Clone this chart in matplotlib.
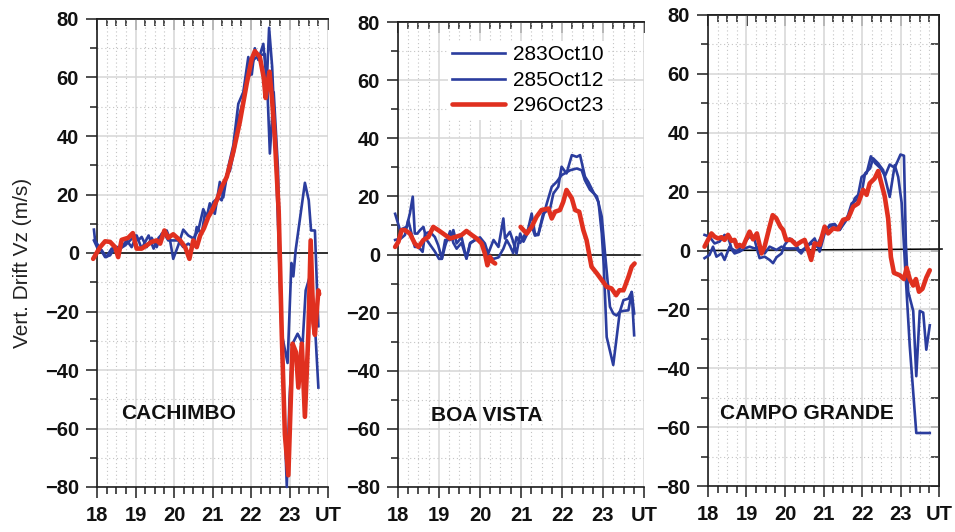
import numpy as np
import matplotlib
matplotlib.use("Agg")
import matplotlib.pyplot as plt
from matplotlib.ticker import MultipleLocator, NullFormatter

# ---------------- data: vertical drift Vz (m/s) versus UT (hours) ----------------
series_labels = ["283Oct10", "285Oct12", "296Oct23"]
station_names = ["CACHIMBO", "BOA VISTA", "CAMPO GRANDE"]
x_tick_labels = ["18", "19", "20", "21", "22", "23", "UT"]

# CACHIMBO
cach_t_283 = [17.92, 17.95, 18.08, 18.21, 18.34, 18.47, 18.60, 18.73, 18.86, 18.99, 19.07, 19.16,
              19.29, 19.42, 19.55, 19.68, 19.81, 19.89, 19.98, 20.11, 20.24, 20.37, 20.50, 20.63,
              20.76, 20.85, 20.93, 21.06, 21.19, 21.28, 21.41, 21.54, 21.67, 21.80, 21.93, 22.02,
              22.10, 22.19, 22.32, 22.41, 22.47, 22.55, 22.63, 22.72, 22.80, 22.93, 23.00, 23.08,
              23.21, 23.34, 23.42, 23.55, 23.64, 23.75]
cach_v_283 = [8, 4.3, 1.5, -1.4, -0.8, 2, 1.5, 2.6, 4.3, 6, 4.3, 5.5,
              2, 5.2, 2, 6.6, 7.7, 4.9, -2, 2.6, 8, 6, 5, 7.7,
              15, 12.3, 17, 13.4, 24.3, 19, 29.4, 36.8, 51, 55, 67, 61,
              70, 66, 71.5, 58, 77, 63.6, 37.4, 3.2, -31, -80, -50, -31,
              -27.6, -31, -12.8, -7, -19.6, -46]
cach_t_285 = [17.92, 18.00, 18.12, 18.24, 18.38, 18.51, 18.64, 18.77, 18.90, 19.03, 19.16, 19.34,
              19.47, 19.60, 19.73, 19.85, 19.98, 20.11, 20.24, 20.37, 20.50, 20.59, 20.72, 20.80,
              20.93, 21.02, 21.15, 21.24, 21.37, 21.45, 21.58, 21.67, 21.80, 21.89, 21.97, 22.06,
              22.15, 22.23, 22.36, 22.42, 22.49, 22.59, 22.70, 22.80, 22.88, 22.95, 23.05, 23.10,
              23.16, 23.40, 23.50, 23.56, 23.66, 23.75]
cach_v_285 = [4.3, 2, 1, -1.4, 1.5, 2, 2, 4.3, 2, 6, 1.5, 6,
              1.5, 5.2, 7, 4.3, 4.3, 4.3, 2, 3.2, 2, 8.9, 6.6, 13.4,
              12.9, 17.4, 19, 18, 27, 28, 36, 46, 52, 61, 60.7, 66,
              67, 67.6, 68, 58, 34, 55, 29, -27.6, -33, -37.6, -3.4, -8,
              1, 24, 18, 7.7, 7.7, -25]
cach_t_296 = [17.90, 18.08, 18.21, 18.34, 18.47, 18.55, 18.64, 18.81, 18.93, 19.03, 19.16, 19.29,
              19.42, 19.55, 19.64, 19.75, 19.85, 19.98, 20.16, 20.29, 20.40, 20.50, 20.59, 20.68,
              20.78, 20.89, 21.00, 21.11, 21.24, 21.37, 21.54, 21.71, 21.89, 22.02, 22.10, 22.23,
              22.33, 22.38, 22.43, 22.48, 22.55, 22.62, 22.72, 22.80, 22.88, 22.97, 23.08, 23.17,
              23.23, 23.32, 23.40, 23.49, 23.55, 23.62, 23.66, 23.75, 23.77]
cach_v_296 = [-2, 2, 4, 3.8, 2, -1.4, 4.5, 5.2, 6.8, 1.5, 1.5, 2.6,
              3.8, 4.3, 3.2, 7.7, 5.2, 6.4, 4.3, 2, -2, 4.3, 2, 6,
              8.5, 12.3, 14.8, 18, 22.6, 26, 34.5, 44.8, 58, 66.4, 69, 67,
              60, 53, 58, 62, 52, 39, 14, -28, -62, -76, -31, -34,
              -46, -31, -56, -27.6, 4.3, -24, -28, -12.8, -14]

# BOA VISTA
boa_t_283 = [17.93, 18.05, 18.13, 18.21, 18.29, 18.36, 18.41, 18.47, 18.54, 18.62, 18.70, 18.80,
             18.90, 19.00, 19.07, 19.15, 19.27, 19.35, 19.43, 19.55, 19.67, 19.76, 19.88, 20.00,
             20.12, 20.20, 20.33, 20.45, 20.57, 20.65, 20.73, 20.81, 20.89, 20.98, 21.06, 21.14,
             21.26, 21.34, 21.42, 21.50, 21.63, 21.75, 21.87, 21.99, 22.20, 22.36, 22.48, 22.56,
             22.68, 22.85, 22.97, 23.05, 23.17, 23.25, 23.33, 23.41, 23.50, 23.62, 23.70, 23.76]
boa_v_283 = [14, 8.4, 9, 9.5, 14.1, 19.9, 7.2, 7.2, 8.4, 9.5, 5, 3,
             1, -1.5, -1.5, 3, 8, 4, 2, 4, -1.4, 4, 5, 5,
             2, -0.5, -1.5, -1, 2, 5, 3, 0.5, 6, 4, 6, 8,
             10, 6.5, 6.8, 11, 17.6, 23.3, 25, 27.3, 29, 29.6, 29, 25.5,
             22.3, 20, 13, 0.3, -18, -20.3, -21, -19.7, -19.4, -19.2, -12.9, -20.3]
boa_t_285 = [17.93, 18.07, 18.17, 18.25, 18.33, 18.41, 18.50, 18.60, 18.66, 18.78, 18.90, 18.98,
             19.07, 19.15, 19.27, 19.35, 19.43, 19.55, 19.67, 19.76, 19.88, 20.00, 20.12, 20.20,
             20.33, 20.45, 20.57, 20.61, 20.73, 20.81, 20.89, 20.98, 21.06, 21.14, 21.26, 21.34,
             21.42, 21.54, 21.71, 21.79, 21.91, 21.99, 22.11, 22.24, 22.36, 22.44, 22.56, 22.64,
             22.76, 22.89, 22.97, 23.02, 23.09, 23.25, 23.41, 23.50, 23.62, 23.70, 23.76]
boa_v_285 = [5, 5.5, 6.7, 11.8, 7.2, 2.6, 2.6, 0.9, 7.2, 7.8, 6, 3.2,
             -1.4, 5, 5, 8.4, 3.8, 6, -1.4, 3.8, 5, 5.9, 3.8, 0.3,
             5, 2.6, 12.4, 5.5, 7.8, 4.4, 0.3, 7.2, 4.4, 6.7, 14.1, 7.2,
             6.7, 14.1, 15.8, 21, 23.3, 30.2, 27.9, 34.2, 33.6, 34.2, 26.8, 25,
             21.6, 18.1, 7.2, -4.2, -28.4, -38, -19.7, -15.7, -15.2, -12.9, -27.8]
boa_t_296 = [17.93, 18.01, 18.09, 18.17, 18.29, 18.41, 18.50, 18.62, 18.74, 18.86, 18.98, 19.15,
             19.27, 19.39, 19.55, 19.67, 19.80, 19.92, 20.04, 20.12, 20.18, 20.24, 20.31, 20.37,
             20.68,
             20.99, 21.06, 21.14, 21.26, 21.38, 21.50, 21.67, 21.75, 21.83, 21.95, 22.03, 22.11,
             22.24, 22.32, 22.42, 22.52, 22.60, 22.72, 22.85, 22.97, 23.09, 23.21, 23.32, 23.40,
             23.50, 23.62, 23.70, 23.77]
boa_v_296 = [2.6, 4.4, 8.4, 8.4, 7.2, 3.8, 2.6, 5, 6, 9.5, 8.4, 6.7,
             5.5, 6, 6.7, 8.1, 6.7, 5.5, 3.8, 0.3, -3.7, -0.8, -2.5, -3.1,
             np.nan,
             9.5, 8.4, 7.2, 9.5, 13, 15.3, 15.8, 12.4, 14.7, 15.3, 18.1, 22.2,
             19.3, 15.3, 14.7, 8.4, 4.9, -4.2, -6.5, -8.8, -11.1, -11.7, -14, -12.3,
             -12.3, -7.7, -4.2, -3.1]

# CAMPO GRANDE
cg_t_283 = [17.91, 18.04, 18.17, 18.30, 18.43, 18.52, 18.61, 18.74, 18.87, 19.00, 19.08, 19.21,
            19.34, 19.47, 19.60, 19.69, 19.78, 19.91, 19.99, 20.12, 20.25, 20.38, 20.51, 20.64,
            20.77, 20.90, 21.03, 21.16, 21.29, 21.42, 21.55, 21.68, 21.81, 21.90, 21.99, 22.12,
            22.23, 22.34, 22.47, 22.60, 22.72, 22.85, 23.00, 23.09, 23.14, 23.20, 23.33, 23.41,
            23.50, 23.59, 23.67, 23.76]
cg_v_283 = [5.3, 4.7, 2.4, 3, 5.3, 4.7, 0.7, -0.4, 1.3, 3.6, 4.7, 3.6,
            -2.6, -2.1, -3.2, -4.3, -2.3, -1, 1.9, 4.1, 3, -0.4, 0.7, 2.4,
            4.1, -0.4, 5.8, 8.7, 9, 7, 10.1, 12.6, 17.7, 18.9, 25, 26.2,
            32, 29.7, 28.1, 25.4, 29.2, 28.1, 32.6, 32.2, 2.2, -14, -20.5, -42.7,
            -20.5, -21.1, -33.7, -25.4]
cg_t_285 = [17.91, 18.04, 18.13, 18.22, 18.35, 18.43, 18.56, 18.69, 18.82, 18.95, 19.08, 19.21,
            19.34, 19.47, 19.60, 19.78, 19.91, 20.03, 20.16, 20.29, 20.42, 20.55, 20.68, 20.81,
            20.90, 21.03, 21.16, 21.29, 21.42, 21.60, 21.73, 21.86, 21.99, 22.08, 22.21, 22.29,
            22.42, 22.55, 22.72, 22.85, 22.94, 23.03, 23.11, 23.24, 23.41, 23.76]
cg_v_285 = [-2.6, -1.5, 1.3, -2.1, -1, -3.2, 1.3, -1, -0.4, 0.7, 1.3, 0.7,
            1.3, -1, 1.3, 0.2, 1.3, 0.7, 0.7, 0.7, -1, 1.3, 2.4, 1.3,
            3.6, 7, 8.1, 8.7, 7, 10.4, 16, 17.2, 19.4, 26.2, 27.9, 31.3,
            29.6, 27.3, 18.2, 29, 25, 16.2, -3.2, -32.4, -62, -62]
cg_t_296 = [17.91, 18.00, 18.09, 18.17, 18.26, 18.35, 18.43, 18.52, 18.61, 18.69, 18.75, 18.82,
            18.91, 18.99, 19.08, 19.17, 19.27, 19.39, 19.47, 19.60, 19.68, 19.77, 19.88, 19.95,
            20.03, 20.16, 20.29, 20.42, 20.51, 20.60, 20.68, 20.77, 20.90, 21.03, 21.12, 21.25,
            21.38, 21.51, 21.64, 21.77, 21.90, 22.03, 22.12, 22.20, 22.33, 22.42, 22.59, 22.68,
            22.75, 22.83, 22.98, 23.09, 23.16, 23.24, 23.33, 23.40, 23.48, 23.57, 23.67, 23.76]
cg_v_296 = [1.3, 3.6, 5.8, 4.7, 4.1, 4.5, 3.6, 5.3, 3.3, 3.6, 1.3, 1.9,
            1.3, 3.8, 6.4, 3.8, 5.8, -1, 1.3, 8.1, 12, 11, 8.1, 7,
            3.6, 3.6, 1.9, 3, 3.6, 0.2, -3.2, 2.4, 1.9, 8.1, 5.8, 7.5,
            7.2, 10.4, 10.9, 14.9, 16, 20.6, 18.9, 22.8, 24.5, 27, 18.4, 10.8,
            -2.2, -7.6, -8.4, -9.7, -5.9, -9.7, -11.9, -9.7, -14, -13, -9.2, -6.7]

# reference line of panel 3 is drawn a touch off horizontal
cg_zero_t = [18.0, 24.08]
cg_zero_v = [0.0, 0.5]

# ---------------- style ----------------
BLUE = "#2b3d9e"
RED = "#e0301f"
INK = "#1e1e1e"
GRID_MAJ = "#d6d6d6"
GRID_MIN = "#c4c4c4"

plt.rcParams["font.family"] = ["Liberation Sans", "DejaVu Sans"]

fig = plt.figure(figsize=(9.55, 5.32), dpi=100)
W, H = 955.0, 532.0


def px_axes(left, right, top, bottom):
    return fig.add_axes([left / W, 1 - bottom / H, (right - left) / W, (bottom - top) / H])


axes = [px_axes(97, 328, 19, 487),
        px_axes(398, 644, 22, 487),
        px_axes(708, 939, 15, 486)]

panels = [
    (cach_t_283, cach_v_283, cach_t_285, cach_v_285, cach_t_296, cach_v_296),
    (boa_t_283, boa_v_283, boa_t_285, boa_v_285, boa_t_296, boa_v_296),
    (cg_t_283, cg_v_283, cg_t_285, cg_v_285, cg_t_296, cg_v_296),
]
label_pos = [(18.62, -55), (18.80, -55.5), (18.31, -55.5)]
y_ticks = np.arange(-80, 81, 20)

for i, (ax, data) in enumerate(zip(axes, panels)):
    t1, v1, t2, v2, t3, v3 = data
    ax.set_xlim(18, 24)
    ax.set_ylim(-80, 80)

    ax.set_xticks(np.arange(18, 25, 1))
    ax.set_xticklabels(x_tick_labels)
    ax.xaxis.set_minor_locator(MultipleLocator(0.25))
    ax.set_yticks(y_ticks)
    ax.set_yticklabels([f"{int(v)}".replace("-", "\u2212") for v in y_ticks])
    ax.yaxis.set_minor_locator(MultipleLocator(10))

    # grid: solid on whole hours / 20 m/s, dotted on quarter hours / 10 m/s
    ax.grid(which="major", color=GRID_MAJ, lw=1.1, ls="-", zorder=0)
    ax.grid(which="minor", color=GRID_MIN, lw=0.8, ls=(0, (1, 2.5)), zorder=0)
    ax.set_axisbelow(True)

    # zero line
    if i == 2:
        ax.plot(cg_zero_t, cg_zero_v, color="black", lw=1.1, clip_on=False, zorder=2)
    elif i == 1:
        ax.plot([18, 23.9], [0, 0], color="black", lw=1.1, zorder=2)
    else:
        ax.plot([18, 24], [0, 0], color="black", lw=1.1, zorder=2)

    l1, = ax.plot(t1, v1, color=BLUE, lw=1.9, clip_on=False, zorder=3, label=series_labels[0])
    l2, = ax.plot(t2, v2, color=BLUE, lw=1.9, clip_on=False, zorder=3, label=series_labels[1])
    l3, = ax.plot(t3, v3, color=RED, lw=3.3, clip_on=False, zorder=4, label=series_labels[2],
                  solid_joinstyle="round", solid_capstyle="round")

    ax.text(label_pos[i][0], label_pos[i][1], station_names[i], fontsize=15,
            fontweight="bold", ha="left", va="center", color="#111111", zorder=5)

    # spines
    for s in ["left", "bottom", "top"]:
        ax.spines[s].set_linewidth(1.2)
        ax.spines[s].set_color(INK)
    if i == 2:
        ax.spines["right"].set_linewidth(1.2)
        ax.spines["right"].set_color(INK)
    else:
        ax.spines["right"].set_visible(False)

    # bottom and left ticks point outward
    ax.tick_params(which="both", direction="out", color=INK, width=1.1,
                   top=False, right=False)
    ax.tick_params(axis="x", which="major", length=8, pad=6)
    ax.tick_params(axis="x", which="minor", length=5)
    ax.tick_params(axis="y", which="major", length=8, pad=5)
    ax.tick_params(axis="y", which="minor", length=5)
    for lab in ax.get_xticklabels() + ax.get_yticklabels():
        lab.set_fontweight("bold")
        lab.set_fontsize(14.5)
        lab.set_color("#111111")

    # top ticks point inward
    top = ax.secondary_xaxis("top")
    top.set_xticks(np.arange(18, 25, 1))
    top.xaxis.set_minor_locator(MultipleLocator(0.25))
    top.xaxis.set_major_formatter(NullFormatter())
    top.tick_params(which="both", direction="in", color=INK, width=1.1)
    top.tick_params(which="major", length=8)
    top.tick_params(which="minor", length=5)
    top.spines["top"].set_linewidth(1.2)
    top.spines["top"].set_color(INK)

    if i == 2:
        right = ax.secondary_yaxis("right")
        right.set_yticks(np.arange(-80, 81, 10))
        right.yaxis.set_major_formatter(NullFormatter())
        right.tick_params(which="both", direction="in", length=6, color=INK, width=1.1)
        right.spines["right"].set_linewidth(1.2)
        right.spines["right"].set_color(INK)

    if i == 1:
        leg = ax.legend(handles=[l1, l2, l3], loc="upper left",
                        bbox_to_anchor=((448 - 398) / 246.0, 1 - (41 - 22) / 465.0),
                        frameon=True, fancybox=False, framealpha=1.0, edgecolor="none",
                        facecolor="white", fontsize=15, handlelength=2.55,
                        handletextpad=0.38, labelspacing=0.32, borderpad=0.2,
                        borderaxespad=0.0)
        leg.set_zorder(6)

fig.text(22 / W, 1 - 263 / H, "Vert. Drift Vz (m/s)", rotation=90, fontsize=15,
         ha="center", va="center", color="#222222")

fig.savefig("out.png", dpi=100)
